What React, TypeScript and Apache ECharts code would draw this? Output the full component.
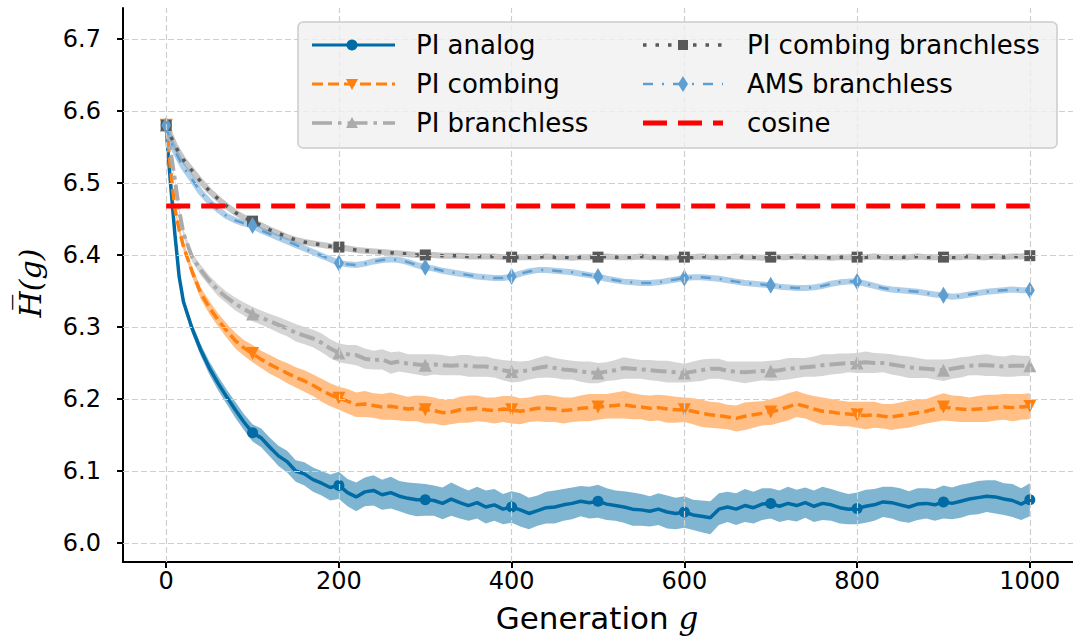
import React, { useEffect, useRef } from "react";
import * as echarts from "echarts";

// ---------- data ----------
const generations = [
  0, 2, 5, 10, 15, 20,
  30, 40, 50, 60, 70, 80, 90, 100, 110, 120,
  130, 140, 150, 160, 170, 180, 190, 200, 210, 220,
  230, 240, 250, 260, 270, 280, 290, 300, 310, 320,
  330, 340, 350, 360, 370, 380, 390, 400, 410, 420,
  430, 440, 450, 460, 470, 480, 490, 500, 510, 520,
  530, 540, 550, 560, 570, 580, 590, 600, 610, 620,
  630, 640, 650, 660, 670, 680, 690, 700, 710, 720,
  730, 740, 750, 760, 770, 780, 790, 800, 810, 820,
  830, 840, 850, 860, 870, 880, 890, 900, 910, 920,
  930, 940, 950, 960, 970, 980, 990, 1000,
];

const piAnalog = [
  6.580, 6.545, 6.500, 6.430, 6.370, 6.335,
  6.298, 6.268, 6.243, 6.222, 6.203, 6.185, 6.168, 6.153, 6.146, 6.133,
  6.121, 6.113, 6.100, 6.096, 6.088, 6.083, 6.077, 6.080, 6.070, 6.064,
  6.071, 6.073, 6.067, 6.070, 6.065, 6.062, 6.060, 6.060, 6.059, 6.055,
  6.061, 6.056, 6.052, 6.056, 6.050, 6.053, 6.047, 6.050, 6.046, 6.041,
  6.045, 6.049, 6.050, 6.053, 6.055, 6.058, 6.056, 6.058, 6.054, 6.052,
  6.050, 6.047, 6.046, 6.044, 6.047, 6.043, 6.041, 6.043, 6.039, 6.037,
  6.035, 6.047, 6.050, 6.047, 6.052, 6.049, 6.054, 6.055, 6.051, 6.055,
  6.052, 6.056, 6.051, 6.055, 6.053, 6.049, 6.047, 6.048, 6.051, 6.053,
  6.057, 6.056, 6.053, 6.050, 6.054, 6.055, 6.053, 6.057, 6.055, 6.058,
  6.061, 6.063, 6.065, 6.064, 6.061, 6.059, 6.054, 6.060,
];
const piAnalogSpread = [
  0, 0.002, 0.003, 0.004, 0.005, 0.006,
  0.007, 0.008, 0.009, 0.010, 0.010, 0.011, 0.011, 0.012, 0.013, 0.013,
  0.014, 0.015, 0.015, 0.016, 0.017, 0.017, 0.018, 0.019, 0.019, 0.020,
  0.020, 0.021, 0.021, 0.022, 0.021, 0.022, 0.023, 0.022, 0.021, 0.022,
  0.023, 0.022, 0.021, 0.022, 0.023, 0.022, 0.021, 0.022, 0.023, 0.022,
  0.021, 0.022, 0.023, 0.022, 0.022, 0.021, 0.022, 0.023, 0.022, 0.021,
  0.022, 0.023, 0.022, 0.021, 0.022, 0.023, 0.022, 0.022, 0.021, 0.022,
  0.023, 0.022, 0.021, 0.022, 0.023, 0.022, 0.022, 0.021, 0.022, 0.023,
  0.022, 0.021, 0.022, 0.023, 0.022, 0.022, 0.021, 0.022, 0.023, 0.022,
  0.021, 0.022, 0.023, 0.022, 0.022, 0.021, 0.022, 0.023, 0.022, 0.023,
  0.022, 0.023, 0.022, 0.023, 0.022, 0.023, 0.022, 0.023,
];

const piCombing = [
  6.580, 6.555, 6.520, 6.465, 6.435, 6.412,
  6.377, 6.347, 6.327, 6.310, 6.295, 6.281, 6.271, 6.263, 6.255, 6.248,
  6.242, 6.236, 6.230, 6.225, 6.219, 6.212, 6.206, 6.201, 6.197, 6.192,
  6.193, 6.191, 6.189, 6.190, 6.188, 6.186, 6.187, 6.185, 6.184, 6.181,
  6.182, 6.185, 6.186, 6.187, 6.185, 6.184, 6.186, 6.185, 6.183, 6.185,
  6.187, 6.187, 6.186, 6.184, 6.185, 6.187, 6.188, 6.189, 6.190, 6.191,
  6.192, 6.190, 6.189, 6.187, 6.188, 6.186, 6.185, 6.185, 6.183, 6.180,
  6.178, 6.177, 6.175, 6.173, 6.176, 6.178, 6.180, 6.182, 6.185, 6.189,
  6.193, 6.190, 6.186, 6.183, 6.182, 6.180, 6.179, 6.178, 6.177, 6.178,
  6.176, 6.175, 6.177, 6.179, 6.181, 6.183, 6.186, 6.189, 6.187, 6.186,
  6.185, 6.186, 6.187, 6.188, 6.189, 6.188, 6.189, 6.190,
];
const piCombingSpread = [
  0, 0.002, 0.003, 0.004, 0.005, 0.006,
  0.007, 0.008, 0.009, 0.009, 0.010, 0.011, 0.011, 0.012, 0.012, 0.013,
  0.013, 0.014, 0.014, 0.015, 0.015, 0.016, 0.016, 0.016, 0.017, 0.017,
  0.018, 0.017, 0.018, 0.019, 0.018, 0.017, 0.018, 0.019, 0.018, 0.018,
  0.017, 0.018, 0.019, 0.018, 0.017, 0.018, 0.018, 0.019, 0.018, 0.017,
  0.018, 0.019, 0.018, 0.018, 0.017, 0.018, 0.019, 0.018, 0.017, 0.018,
  0.019, 0.018, 0.017, 0.018, 0.018, 0.019, 0.018, 0.017, 0.018, 0.019,
  0.018, 0.018, 0.017, 0.018, 0.019, 0.018, 0.017, 0.018, 0.018, 0.019,
  0.018, 0.017, 0.018, 0.019, 0.018, 0.018, 0.017, 0.018, 0.019, 0.018,
  0.017, 0.018, 0.018, 0.019, 0.018, 0.017, 0.018, 0.019, 0.018, 0.018,
  0.017, 0.018, 0.019, 0.018, 0.018, 0.019, 0.018, 0.018,
];

const piBranchless = [
  6.580, 6.565, 6.545, 6.505, 6.462, 6.430,
  6.397, 6.379, 6.364, 6.351, 6.341, 6.332, 6.325, 6.318, 6.313, 6.308,
  6.303, 6.298, 6.292, 6.288, 6.284, 6.278, 6.270, 6.264, 6.262, 6.261,
  6.256, 6.254, 6.255, 6.250, 6.252, 6.249, 6.248, 6.247, 6.248, 6.247,
  6.246, 6.247, 6.246, 6.245, 6.245, 6.243, 6.240, 6.238, 6.238, 6.240,
  6.243, 6.245, 6.243, 6.241, 6.240, 6.238, 6.237, 6.236, 6.238, 6.240,
  6.243, 6.242, 6.241, 6.240, 6.239, 6.238, 6.237, 6.236, 6.238, 6.240,
  6.242, 6.242, 6.239, 6.238, 6.237, 6.238, 6.239, 6.239, 6.240, 6.242,
  6.243, 6.244, 6.245, 6.247, 6.248, 6.249, 6.250, 6.250, 6.251, 6.250,
  6.250, 6.248, 6.246, 6.244, 6.243, 6.242, 6.241, 6.240, 6.242, 6.244,
  6.246, 6.247, 6.247, 6.246, 6.245, 6.246, 6.246, 6.246,
];
const piBranchlessSpread = [
  0, 0.001, 0.002, 0.003, 0.004, 0.005,
  0.006, 0.007, 0.007, 0.008, 0.008, 0.009, 0.009, 0.010, 0.010, 0.010,
  0.011, 0.011, 0.012, 0.012, 0.012, 0.013, 0.013, 0.013, 0.013, 0.014,
  0.014, 0.013, 0.014, 0.015, 0.014, 0.013, 0.014, 0.015, 0.014, 0.014,
  0.013, 0.014, 0.015, 0.014, 0.014, 0.013, 0.014, 0.015, 0.014, 0.013,
  0.014, 0.015, 0.014, 0.014, 0.013, 0.014, 0.015, 0.014, 0.013, 0.014,
  0.015, 0.014, 0.013, 0.014, 0.014, 0.015, 0.014, 0.013, 0.014, 0.015,
  0.014, 0.014, 0.013, 0.014, 0.015, 0.014, 0.013, 0.014, 0.014, 0.015,
  0.014, 0.013, 0.014, 0.015, 0.014, 0.014, 0.013, 0.014, 0.015, 0.014,
  0.013, 0.014, 0.014, 0.015, 0.014, 0.013, 0.014, 0.015, 0.014, 0.014,
  0.013, 0.014, 0.015, 0.014, 0.014, 0.015, 0.014, 0.014,
];

const piCombingBranchless = [
  6.580, 6.575, 6.566, 6.552, 6.542, 6.532,
  6.517, 6.502, 6.489, 6.478, 6.468, 6.459, 6.452, 6.447, 6.441, 6.435,
  6.430, 6.425, 6.421, 6.418, 6.416, 6.414, 6.412, 6.411, 6.409, 6.407,
  6.406, 6.405, 6.404, 6.403, 6.402, 6.401, 6.400, 6.400, 6.400, 6.399,
  6.399, 6.399, 6.398, 6.398, 6.398, 6.398, 6.397, 6.397, 6.397, 6.397,
  6.397, 6.398, 6.397, 6.397, 6.396, 6.397, 6.397, 6.397, 6.398, 6.397,
  6.397, 6.397, 6.398, 6.397, 6.397, 6.396, 6.397, 6.397, 6.397, 6.398,
  6.397, 6.397, 6.397, 6.398, 6.397, 6.397, 6.396, 6.397, 6.397, 6.397,
  6.398, 6.397, 6.397, 6.397, 6.396, 6.397, 6.397, 6.397, 6.397, 6.398,
  6.397, 6.397, 6.397, 6.397, 6.398, 6.397, 6.397, 6.397, 6.397, 6.397,
  6.398, 6.397, 6.397, 6.398, 6.397, 6.398, 6.398, 6.399,
];

const amsBranchless = [
  6.580, 6.570, 6.558, 6.545, 6.533, 6.522,
  6.505, 6.487, 6.474, 6.463, 6.454, 6.448, 6.444, 6.441, 6.434, 6.429,
  6.424, 6.419, 6.414, 6.409, 6.404, 6.399, 6.394, 6.389, 6.387, 6.386,
  6.388, 6.391, 6.393, 6.394, 6.393, 6.390, 6.386, 6.383, 6.381, 6.378,
  6.376, 6.374, 6.372, 6.370, 6.369, 6.368, 6.368, 6.370, 6.374, 6.377,
  6.379, 6.379, 6.378, 6.377, 6.376, 6.374, 6.372, 6.370, 6.367, 6.365,
  6.363, 6.362, 6.361, 6.361, 6.362, 6.364, 6.366, 6.368, 6.369, 6.369,
  6.368, 6.367, 6.365, 6.363, 6.361, 6.360, 6.359, 6.358, 6.356, 6.355,
  6.354, 6.354, 6.355, 6.357, 6.360, 6.362, 6.363, 6.363, 6.360, 6.357,
  6.354, 6.352, 6.351, 6.350, 6.349, 6.347, 6.345, 6.344, 6.342, 6.343,
  6.345, 6.347, 6.349, 6.350, 6.351, 6.352, 6.351, 6.351,
];

const cosineLevel = 6.468;

const xTicks = [0, 200, 400, 600, 800, 1000];
const yTicks = [6.0, 6.1, 6.2, 6.3, 6.4, 6.5, 6.6, 6.7];
const markerStep = 100;

const seriesNames = [
  "PI analog",
  "PI combing",
  "PI branchless",
  "PI combing branchless",
  "AMS branchless",
  "cosine",
];

// ---------- styling ----------
const C_ANALOG = "#006BA4";
const C_COMB = "#FF800E";
const C_BR = "#ABABAB";
const C_CBR = "#595959";
const C_AMS = "#5F9ED1";
const C_COS = "#FF0000";
const FONT = "DejaVu Sans";

const pairs = (vals: number[]) => generations.map((g, i) => [g, vals[i]]);
const markerPairs = (vals: number[]) =>
  generations.map((g, i) => [g, vals[i]]).filter(([g]) => g % markerStep === 0);

// confidence band: one polygon through the library's coordinate system
function band(id: string, vals: number[], sp: number[], color: string) {
  return {
    type: "custom",
    name: id + "-band",
    data: [[generations[0], vals[0]]],
    silent: true,
    z: 2,
    renderItem: (_params: any, api: any) => {
      const upper = generations.map((g, i) => api.coord([g, vals[i] + sp[i]]));
      const lower = generations.map((g, i) => api.coord([g, vals[i] - sp[i]])).reverse();
      return {
        type: "polygon",
        shape: { points: upper.concat(lower) },
        style: { fill: color },
      };
    },
  };
}

function mainLine(name: string, vals: number[], color: string, width: number, type: any) {
  return {
    type: "line",
    name,
    data: pairs(vals),
    symbol: "none",
    silent: true,
    lineStyle: { color, width, type, cap: "butt" },
    z: 3,
  };
}

function halo(name: string, vals: number[], color: string, width: number) {
  return {
    type: "line",
    name: name + "-halo",
    data: pairs(vals),
    symbol: "none",
    silent: true,
    lineStyle: { color, width },
    z: 2,
  };
}

function markers(name: string, vals: number[], color: string, symbol: string, size: any, rotate = 0) {
  return {
    type: "scatter",
    name: name + "-m",
    data: markerPairs(vals),
    symbol,
    symbolSize: size,
    symbolRotate: rotate,
    silent: true,
    itemStyle: { color, opacity: 1 },
    z: 4,
  };
}

// legend drawn with graphic elements
const rowY = [45, 84, 123];
const col1 = { x1: 312, x2: 395, m: 352, t: 416 };
const col2 = { x1: 643, x2: 723, m: 683, t: 747 };

function legendLine(col: any, y: number, color: string, width: number, dash: number[] | null) {
  return {
    type: "line",
    z: 101,
    shape: { x1: col.x1, y1: y, x2: col.x2, y2: y },
    style: { stroke: color, lineWidth: width, lineDash: dash || undefined },
  };
}
function legendText(col: any, y: number, text: string) {
  return {
    type: "text",
    z: 101,
    x: col.t,
    y: y,
    style: {
      text,
      fill: "#000",
      fontSize: 26,
      fontFamily: FONT,
      align: "left",
      verticalAlign: "middle",
    },
  };
}

const graphicElements: any[] = [
  {
    type: "rect",
    z: 100,
    shape: { x: 298, y: 22, width: 759, height: 126, r: 5 },
    style: { fill: "rgba(240,240,240,0.8)", stroke: "#cccccc", lineWidth: 1.5 },
  },
  legendLine(col1, rowY[0], C_ANALOG, 3, null),
  { type: "circle", z: 102, shape: { cx: col1.m, cy: rowY[0], r: 5.5 }, style: { fill: C_ANALOG } },
  legendText(col1, rowY[0], seriesNames[0]),
  legendLine(col1, rowY[1], C_COMB, 3, [11, 5]),
  {
    type: "polygon",
    z: 102,
    shape: { points: [[col1.m - 6, rowY[1] - 5], [col1.m + 6, rowY[1] - 5], [col1.m, rowY[1] + 6]] },
    style: { fill: C_COMB },
  },
  legendText(col1, rowY[1], seriesNames[1]),
  legendLine(col1, rowY[2], C_BR, 3.5, [20, 6, 3.5, 6]),
  {
    type: "polygon",
    z: 102,
    shape: { points: [[col1.m - 6, rowY[2] + 5], [col1.m + 6, rowY[2] + 5], [col1.m, rowY[2] - 6]] },
    style: { fill: C_BR },
  },
  legendText(col1, rowY[2], seriesNames[2]),
  legendLine(col2, rowY[0], C_CBR, 3.5, [3.5, 9]),
  { type: "rect", z: 102, shape: { x: col2.m - 5, y: rowY[0] - 5, width: 10, height: 10 }, style: { fill: C_CBR } },
  legendText(col2, rowY[0], seriesNames[3]),
  legendLine(col2, rowY[1], C_AMS, 2.5, [10, 9, 2, 9]),
  {
    type: "polygon",
    z: 102,
    shape: { points: [[col2.m, rowY[1] - 8], [col2.m + 5, rowY[1]], [col2.m, rowY[1] + 8], [col2.m - 5, rowY[1]]] },
    style: { fill: C_AMS },
  },
  legendText(col2, rowY[1], seriesNames[4]),
  legendLine(col2, rowY[2], C_COS, 5, [24, 11]),
  legendText(col2, rowY[2], seriesNames[5]),
  {
    type: "text",
    z: 50,
    x: 597,
    y: 618,
    style: {
      text: "{a|Generation }{b|g}",
      align: "center",
      verticalAlign: "middle",
      rich: {
        a: { fontSize: 31, fontFamily: FONT, fill: "#000" },
        b: { fontSize: 31, fontFamily: "DejaVu Serif", fontStyle: "italic", fill: "#000" },
      },
    },
  },
  {
    type: "text",
    z: 50,
    x: 30,
    y: 283,
    rotation: Math.PI / 2,
    style: {
      text: "H\u0305(g)",
      fontSize: 30,
      fontFamily: "DejaVu Serif",
      fontStyle: "italic",
      fill: "#000",
      align: "center",
      verticalAlign: "middle",
    },
  },
];

const option: any = {
  animation: false,
  backgroundColor: "#ffffff",
  grid: { left: 123, top: 8, width: 950, height: 554, containLabel: false },
  xAxis: {
    type: "value",
    min: -50,
    max: 1050,
    axisLine: { show: true, onZero: false, lineStyle: { color: "#000", width: 2 } },
    axisTick: { show: true, length: 6, customValues: xTicks, lineStyle: { color: "#000", width: 2 } },
    axisLabel: {
      customValues: xTicks,
      color: "#000",
      fontSize: 24,
      fontFamily: FONT,
      margin: 7,
      formatter: (v: number) => String(v),
    },
    splitLine: { show: false },
  },
  yAxis: {
    type: "value",
    min: 5.9736,
    max: 6.743,
    axisLine: { show: true, onZero: false, lineStyle: { color: "#000", width: 2 } },
    axisTick: { show: true, length: 6, customValues: yTicks, lineStyle: { color: "#000", width: 2 } },
    axisLabel: {
      customValues: yTicks,
      color: "#000",
      fontSize: 24,
      fontFamily: FONT,
      margin: 22,
      formatter: (v: number) => v.toFixed(1),
    },
    splitLine: { show: false },
  },
  graphic: { elements: graphicElements },
  series: [
    {
      type: "line",
      name: "grid",
      data: [[generations[0], cosineLevel], [generations[generations.length - 1], cosineLevel]],
      symbol: "none",
      silent: true,
      lineStyle: { opacity: 0 },
      z: 0,
      markLine: {
        silent: true,
        symbol: "none",
        label: { show: false },
        lineStyle: { color: "#cfcfcf", width: 1.2, type: [6, 3] },
        data: [
          ...xTicks.map((x) => ({ xAxis: x })),
          ...yTicks.map((y) => ({ yAxis: y })),
        ],
      },
    },
    band("analog", piAnalog, piAnalogSpread, "rgba(0,107,164,0.5)"),
    mainLine(seriesNames[0], piAnalog, C_ANALOG, 3.5, "solid"),
    markers(seriesNames[0], piAnalog, C_ANALOG, "circle", 11),
    band("comb", piCombing, piCombingSpread, "rgba(255,128,14,0.5)"),
    mainLine(seriesNames[1], piCombing, C_COMB, 3.5, [11, 5]),
    markers(seriesNames[1], piCombing, C_COMB, "triangle", 13, 180),
    band("br", piBranchless, piBranchlessSpread, "rgba(171,171,171,0.5)"),
    mainLine(seriesNames[2], piBranchless, C_BR, 4, [16, 5, 4, 5]),
    markers(seriesNames[2], piBranchless, C_BR, "triangle", 13),
    halo(seriesNames[3], piCombingBranchless, "rgba(89,89,89,0.35)", 6),
    mainLine(seriesNames[3], piCombingBranchless, C_CBR, 3.5, [3.5, 9]),
    markers(seriesNames[3], piCombingBranchless, C_CBR, "rect", 11),
    halo(seriesNames[4], amsBranchless, "rgba(95,158,209,0.5)", 6),
    mainLine(seriesNames[4], amsBranchless, C_AMS, 2.5, [10, 9, 2, 9]),
    markers(seriesNames[4], amsBranchless, C_AMS, "diamond", [10, 17]),
    {
      type: "line",
      name: seriesNames[5],
      data: [[generations[0], cosineLevel], [generations[generations.length - 1], cosineLevel]],
      symbol: "none",
      silent: true,
      lineStyle: { color: C_COS, width: 5, type: [24, 11], cap: "butt" },
      z: 5,
    },
  ],
};

export default function App() {
  const ref = useRef<HTMLDivElement>(null);
  useEffect(() => {
    if (!ref.current) return;
    const chart = echarts.init(ref.current, null, { renderer: "svg" });
    chart.setOption(option);
    return () => chart.dispose();
  }, []);
  return (
    <div
      ref={ref}
      style={{ position: "fixed", left: 0, top: 0, width: 1073, height: 642, background: "#fff" }}
    />
  );
}
